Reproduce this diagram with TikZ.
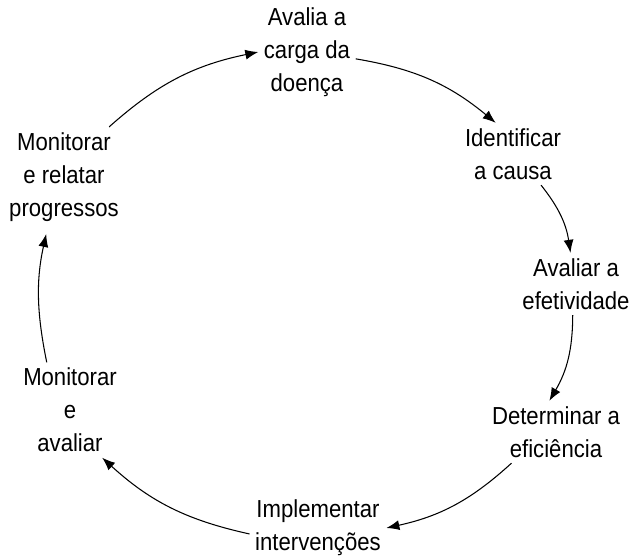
\documentclass[tikz,border=0pt]{standalone}
\usepackage{fontspec}
\setmainfont{Liberation Sans}[FakeStretch=0.9]
\usetikzlibrary{arrows.meta}

\begin{document}
\begin{tikzpicture}[x=0.02cm,y=-0.02cm,
          etapa/.style={align=center,inner sep=3pt,font=\fontsize{14}{18.8}\selectfont},
          seta/.style={-{Latex[length=2.6mm,width=2mm]},line width=0.6pt,bend left=15}]
        \useasboundingbox (0,0) rectangle (632,560);
        \node[etapa] (doenca)  at (307,52)  {Avalia a\\carga da\\doença};
        \node[etapa] (causa)   at (513,154) {Identificar\\a causa};
        \node[etapa] (efetiv)  at (576,284) {Avaliar a\\efetividade};
        \node[etapa] (eficien) at (556,432) {Determinar a\\eficiência};
        \node[etapa] (interv)  at (318,528) {Implementar\\intervenções};
        \node[etapa] (avaliar) at (70,410)  {Monitorar\\e\\avaliar};
        \node[etapa] (progr)   at (64,177)  {Monitorar\\e relatar\\progressos};
        % ciclo
        \draw[seta] (doenca.-8) to (causa.119);
        \draw[seta] (causa.-48) to (efetiv.100);
        \draw[seta] (efetiv.-96) to (eficien.102);
        \draw[seta] (eficien.215) to (interv.east);
        \draw[seta] (interv.185) to (avaliar.-56);
        \draw[seta,bend left=12,shorten >=4pt] (avaliar.116) to (progr.-108);
        \draw[seta] (progr.48) to (doenca.west);
\end{tikzpicture}
\end{document}
